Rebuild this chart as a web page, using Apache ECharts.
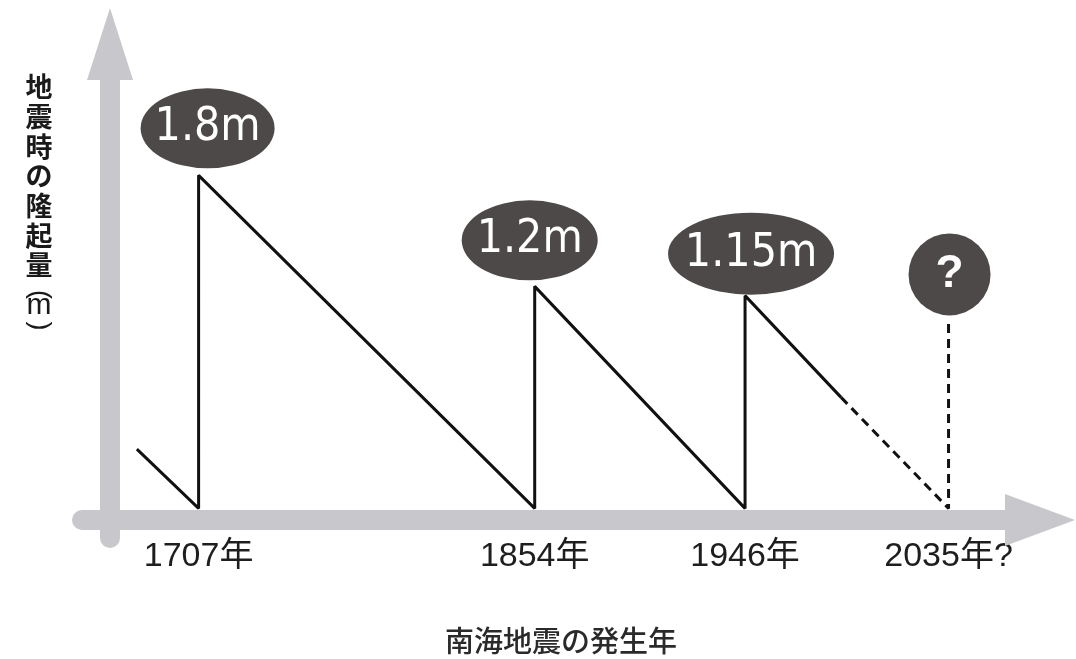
<!DOCTYPE html>
<html><head><meta charset="utf-8">
<script src="https://cdn.jsdelivr.net/npm/echarts@6/dist/echarts.min.js"></script>
<style>html,body{margin:0;padding:0;background:#fff}#c{width:1076px;height:659px}</style>
</head><body><div id="c"></div>
<script>
// ---- data ----
const eventYears = [1707, 1854, 1946, 2035];
const xTickLabels = ['1707年', '1854年', '1946年', '2035年?'];
const upliftYears = [1680, 1707, 1707, 1854, 1854, 1946, 1946, 1988];
const upliftValues = [0.32, 0, 1.8, 0, 1.2, 0, 1.15, 0.6];
const forecastYears = [1988, 2035, 2035];
const forecastValues = [0.6, 0, 1.0];
const bubbleYears = [1707, 1854, 1946, 2035];
const bubbleValues = [1.8, 1.2, 1.15, 1.0];
const bubbleLabels = ['1.8m', '1.2m', '1.15m', '?'];
const xTitle = '南海地震の発生年';
const yTitle = '地震時の隆起量';
const yUnit = ['(', 'm', ')'];

// ---- styles ----
const AXIS_GRAY = '#c8c8cc';
const BUBBLE = '#4d4949';
const ELLIPSE = 'path://M0,50A50,50 0 1,1 100,50A50,50 0 1,1 0,50Z';
const NARROW = '"DejaVu Sans Condensed", "Liberation Sans", sans-serif';
const bubbleStyle = [
  {symbol: ELLIPSE, size: [134, 80], offset: [9, -47], font: NARROW, fs: 46, fw: 'normal'},
  {symbol: ELLIPSE, size: [136, 80], offset: [-5, -46], font: NARROW, fs: 46, fw: 'normal'},
  {symbol: ELLIPSE, size: [166, 82], offset: [6, -42], font: NARROW, fs: 46, fw: 'normal'},
  {symbol: 'circle', size: 82, offset: [1, -49], font: '"Liberation Sans", sans-serif', fs: 46, fw: 'bold'}
];

const zip = (xs, ys) => xs.map((x, i) => [x, ys[i]]);

const chart = echarts.init(document.getElementById('c'), null, {renderer: 'canvas'});
chart.setOption({
  animation: false,
  backgroundColor: '#fff',
  grid: {left: 82, right: 36, top: 44, bottom: 121, containLabel: false, outerBoundsMode: 'none'},
  xAxis: {
    type: 'value', min: 1656, max: 2075, offset: -18,
    axisLine: {show: true, onZero: false, symbol: ['none', 'triangle'], symbolSize: [52, 70],
      lineStyle: {color: AXIS_GRAY, width: 20}},
    axisTick: {show: false}, splitLine: {show: false},
    axisLabel: {
      customValues: eventYears,
      formatter: v => xTickLabels[eventYears.indexOf(v)],
      margin: 20, fontSize: 34, color: '#1e1e1e',
      fontFamily: '"Liberation Sans", "Noto Sans CJK JP", sans-serif'
    },
    name: xTitle, nameLocation: 'middle', nameGap: 121,
    nameTextStyle: {fontSize: 29, color: '#2a2a2a', fontWeight: 500,
      fontFamily: '"Noto Sans CJK JP", sans-serif', verticalAlign: 'middle'}
  },
  yAxis: {
    type: 'value', min: -0.16, max: 2.51, offset: -28,
    axisLine: {show: true, onZero: false, symbol: ['none', 'triangle'], symbolSize: [46, 72],
      lineStyle: {color: AXIS_GRAY, width: 20}},
    axisTick: {show: false}, axisLabel: {show: false}, splitLine: {show: false}
  },
  graphic: [
    {type: 'text', x: 39, y: 72, style: {text: yTitle.split('').join('\n'), fontSize: 27, lineHeight: 29.7,
      fontWeight: 'bold', fontFamily: '"Noto Sans CJK JP", sans-serif', fill: '#1a1a1a', align: 'center', verticalAlign: 'top'}},
    {type: 'text', x: 39, y: 294.5, rotation: -Math.PI / 2, style: {text: yUnit[0], fontSize: 27,
      fontFamily: '"Liberation Sans", sans-serif', fill: '#1a1a1a', align: 'center', verticalAlign: 'middle'}},
    {type: 'text', x: 39, y: 306, style: {text: yUnit[1], fontSize: 30,
      fontFamily: '"Liberation Sans", sans-serif', fill: '#1a1a1a', align: 'center', verticalAlign: 'middle'}},
    {type: 'text', x: 39, y: 326, rotation: -Math.PI / 2, style: {text: yUnit[2], fontSize: 27,
      fontFamily: '"Liberation Sans", sans-serif', fill: '#1a1a1a', align: 'center', verticalAlign: 'middle'}}
  ],
  series: [
    {type: 'line', data: zip(upliftYears, upliftValues), showSymbol: false, symbol: 'none',
      lineStyle: {color: '#111', width: 3}, z: 3},
    {type: 'line', data: zip(forecastYears, forecastValues), showSymbol: false, symbol: 'none',
      lineStyle: {color: '#111', width: 3, type: [9, 6]}, z: 3},
    {type: 'scatter', z: 4,
      data: bubbleYears.map((x, i) => ({
        value: [x, bubbleValues[i]],
        symbol: bubbleStyle[i].symbol,
        symbolSize: bubbleStyle[i].size,
        symbolOffset: bubbleStyle[i].offset,
        itemStyle: {color: BUBBLE, opacity: 1},
        label: {show: true, position: 'inside', formatter: bubbleLabels[i], color: '#fff',
          fontSize: bubbleStyle[i].fs, fontWeight: bubbleStyle[i].fw, fontFamily: bubbleStyle[i].font}
      }))
    }
  ]
});
</script></body></html>
